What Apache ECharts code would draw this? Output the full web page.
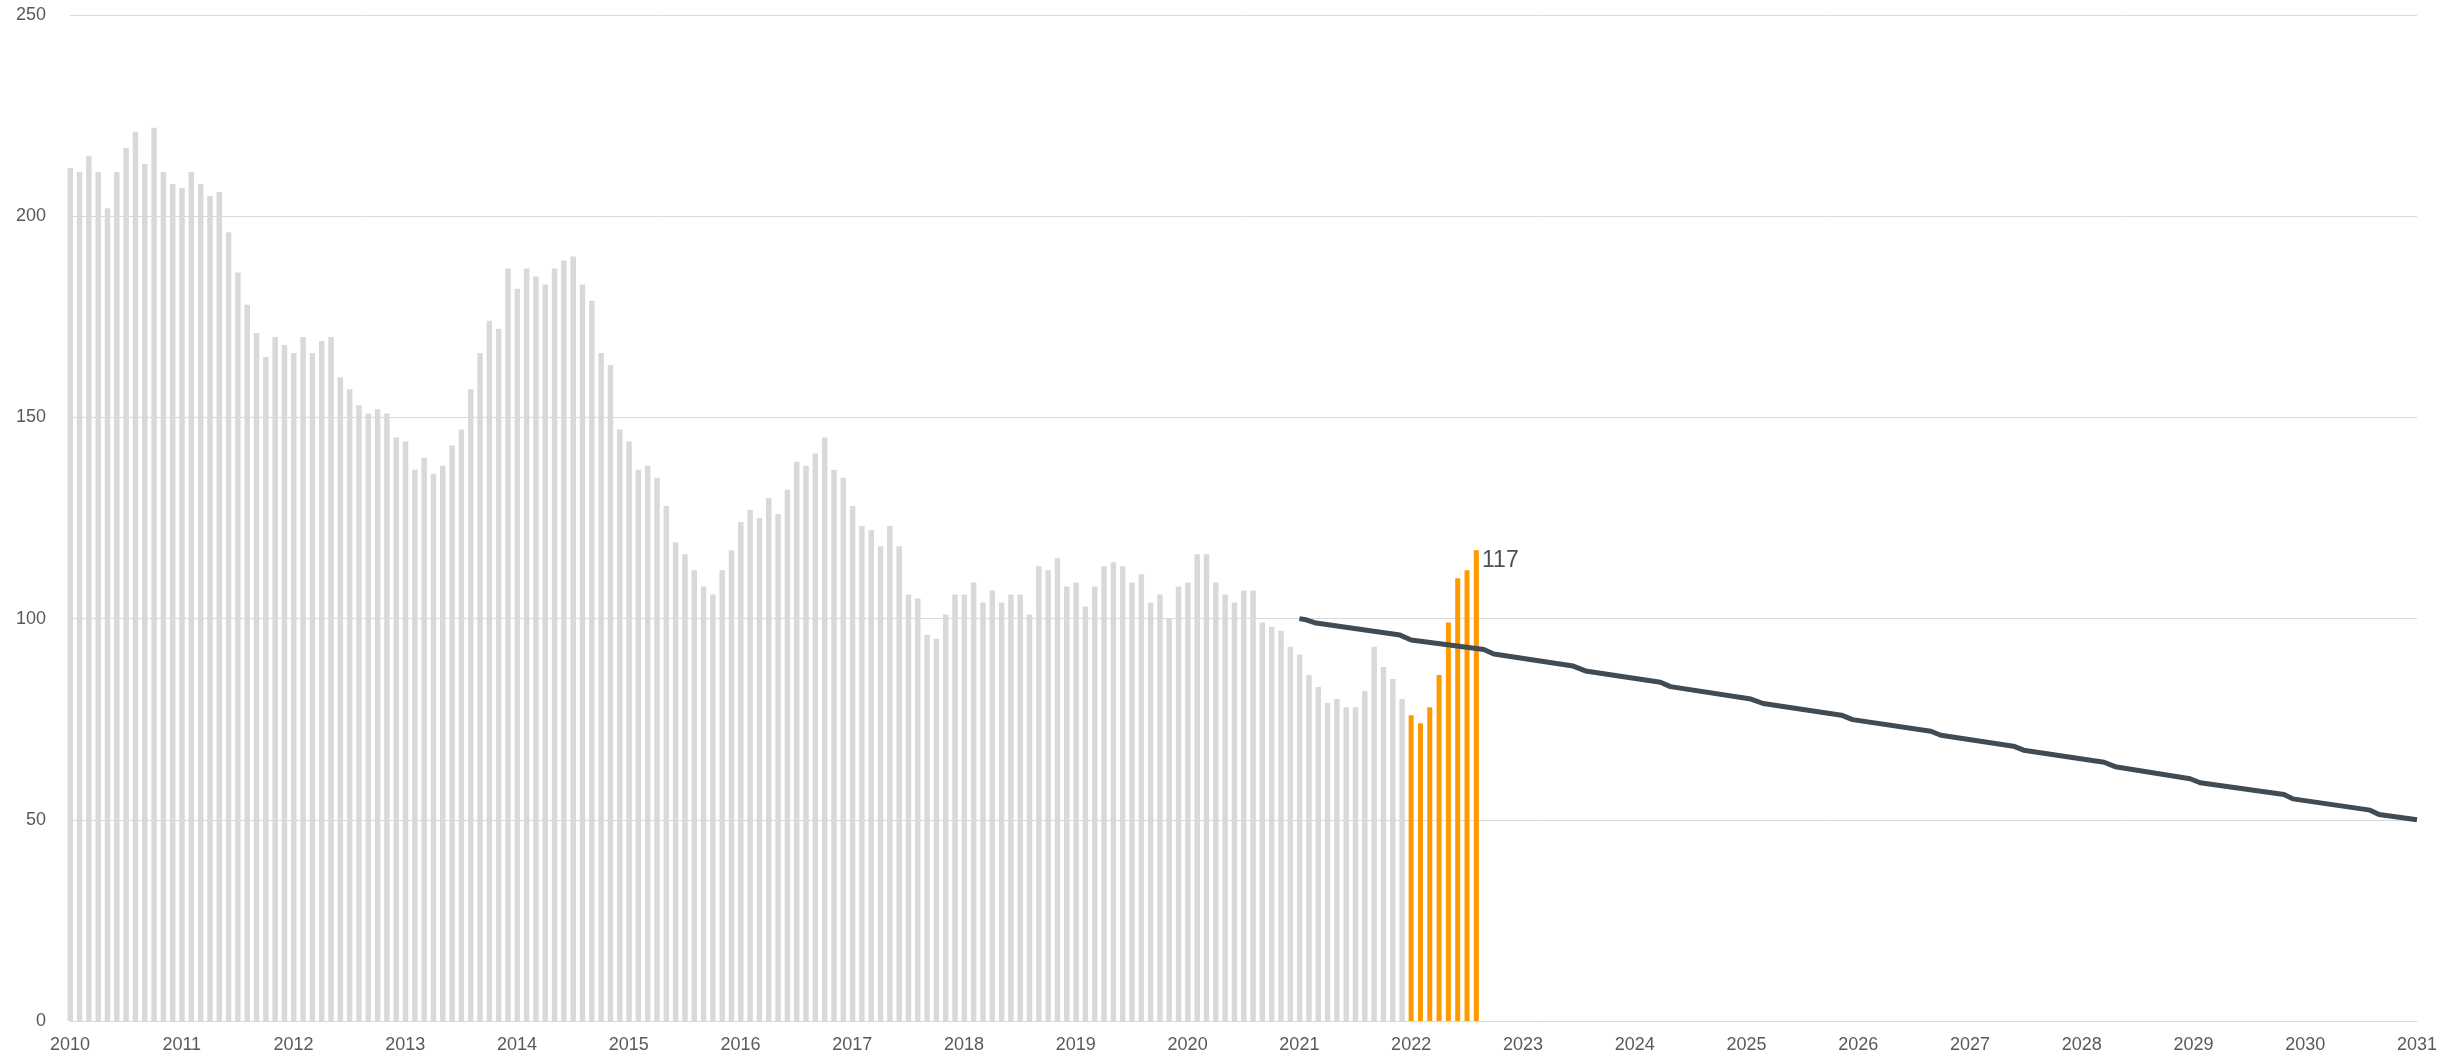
<!DOCTYPE html>
<html>
<head>
<meta charset="utf-8">
<title>chart</title>
<script src="https://cdn.jsdelivr.net/npm/echarts@6/dist/echarts.min.js"></script>
<style>
	html,body{margin:0;padding:0;background:#fff;}
	#main{width:2461px;height:1057px;}
</style>
</head>
<body>
<div id="main"></div>
<script>
	// monthly values, Jan 2010 .. Dec 2021 (grey bars)
	var histStart = 2010;
	var histValues = [
		212,211,215,211,202,211,217,221,213,222,211,208,
		207,211,208,205,206,196,186,178,171,165,170,168,
		166,170,166,169,170,160,157,153,151,152,151,145,
		144,137,140,136,138,143,147,157,166,174,172,187,
		182,187,185,183,187,189,190,183,179,166,163,147,
		144,137,138,135,128,119,116,112,108,106,112,117,
		124,127,125,130,126,132,139,138,141,145,137,135,
		128,123,122,118,123,118,106,105,96,95,101,106,
		106,109,104,107,104,106,106,101,113,112,115,108,
		109,103,108,113,114,113,109,111,104,106,100,108,
		109,116,116,109,106,104,107,107,99,98,97,93,
		91,86,83,79,80,78,78,82,93,88,85,80
	];

	// Jan .. Aug 2022 (orange bars)
	var recentStart = 2022;
	var recentValues = [76,74,78,86,99,110,112,117];

	// trend line 2021 -> 2031
	var trendYears  = [2021.00,2021.06,2021.15,2021.90,2022.00,2022.65,2022.74,2023.45,2023.56,2024.23,2024.32,2025.04,2025.15,2025.85,2025.95,2026.65,2026.74,2027.39,2027.48,2028.20,2028.30,2028.97,2029.06,2029.81,2029.89,2030.58,2030.66,2031.00];
	var trendValues = [100.0,99.7,98.9,95.9,94.7,92.3,91.2,88.2,87.0,84.2,83.1,80.0,78.9,76.0,74.9,72.0,71.0,68.3,67.3,64.3,63.2,60.2,59.2,56.3,55.2,52.4,51.3,50.0];

	var xMin = 2010, xMax = 2031;
	var yTicks = [0,50,100,150,200,250];

	var histData = [];
	for (var i = 0; i < histValues.length; i++) {
		histData.push([histStart + i / 12, histValues[i]]);
	}
	var recentData = [];
	for (var j = 0; j < recentValues.length; j++) {
		var item = {value: [recentStart + j / 12, recentValues[j]]};
		if (j == recentValues.length - 1) {
			item.label = {show: true};
		}
		recentData.push(item);
	}
	var trendData = [];
	for (var k = 0; k < trendYears.length; k++) {
		trendData.push([trendYears[k], trendValues[k]]);
	}

	var myChart = echarts.init(document.getElementById('main'));
	var option = {
		animation: false,
		textStyle: {fontFamily: 'Liberation Sans, Arial, sans-serif'},
		grid: {left: 70, right: 44, top: 15, bottom: 36},
		xAxis: {
			type: 'value',
			min: xMin,
			max: xMax,
			interval: 1,
			axisLine: {show: true, lineStyle: {color: '#d9d9d9', width: 1}},
			axisTick: {show: false},
			splitLine: {show: false},
			axisLabel: {
				color: '#595959',
				fontSize: 18,
				margin: 15,
				formatter: function (v) { return String(Math.round(v)); }
			}
		},
		yAxis: {
			type: 'value',
			min: yTicks[0],
			max: yTicks[yTicks.length - 1],
			interval: 50,
			axisLine: {show: false},
			axisTick: {show: false},
			splitLine: {lineStyle: {color: '#d9d9d9', width: 1}},
			axisLabel: {color: '#595959', fontSize: 18, margin: 24}
		},
		series: [
			{
				type: 'bar',
				clip: false,
				barWidth: 5.5,
				itemStyle: {color: '#d9d9d9'},
				data: histData
			},
			{
				type: 'bar',
				clip: false,
				barWidth: 5,
				barGap: '-100%',
				itemStyle: {color: '#ff9900'},
				label: {
					show: false,
					position: 'top',
					distance: 0,
					offset: [24, 22],
					color: '#4a5259',
					fontSize: 23,
					formatter: function (p) { return p.value[1]; }
				},
				data: recentData
			},
			{
				type: 'line',
				showSymbol: false,
				symbol: 'none',
				lineStyle: {color: '#404b53', width: 5},
				data: trendData
			}
		]
	};
	myChart.setOption(option);
</script>
</body>
</html>
